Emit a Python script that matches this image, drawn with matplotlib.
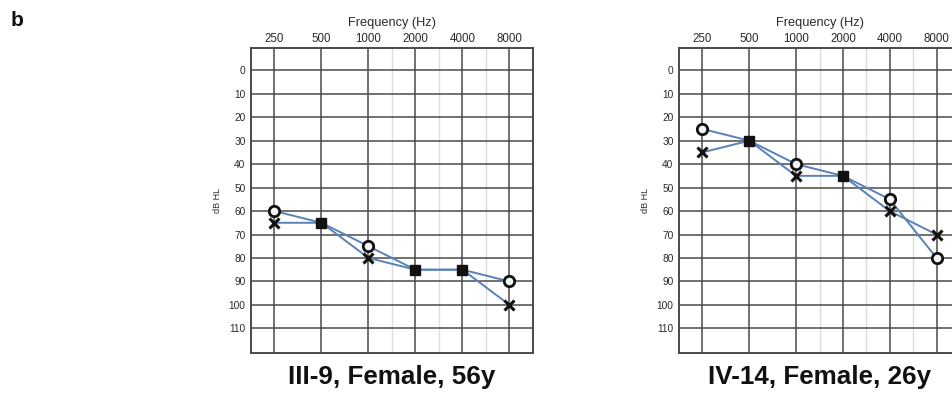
import numpy as np
import matplotlib
matplotlib.use("Agg")
import matplotlib.pyplot as plt

plt.rcParams['font.family'] = ['Liberation Sans', 'DejaVu Sans']

# ── data ────────────────────────────────────────────────────────────────────
freqs = [250, 500, 1000, 2000, 4000, 8000]
db_ticks = [0, 10, 20, 30, 40, 50, 60, 70, 80, 90, 100, 110]

# III-9, Female, 56y
p1_title = "III-9, Female, 56y"
p1_o = [60, 65, 75, 85, 85, 90]
p1_x = [65, 65, 80, 85, 85, 100]

# IV-14, Female, 26y
p2_title = "IV-14, Female, 26y"
p2_o = [25, 30, 40, 45, 55, 80]
p2_x = [35, 30, 45, 45, 60, 70]

LINE = "#5a82b6"
GRID = "#4a4a4a"
MINOR = "#dcdcdc"
TXT = "#2a2a2a"

W, H = 953, 396
fig = plt.figure(figsize=(W / 100, H / 100), dpi=100)


def audiogram(rect, o_vals, x_vals, title):
    ax = fig.add_axes(rect)
    xi = np.arange(len(freqs))
    ax.set_xlim(-0.5, len(freqs) - 0.5)
    ax.set_ylim(120.5, -9.5)

    # half-octave light lines (1500, 3000, 6000)
    for xm in [2.5, 3.5, 4.5]:
        ax.axvline(xm, color=MINOR, lw=1.0, zorder=0)
    for xv in xi:
        ax.axvline(xv, color=GRID, lw=1.1, zorder=1)
    for yv in db_ticks:
        ax.axhline(yv, color=GRID, lw=1.1, zorder=1)

    ax.xaxis.tick_top()
    ax.set_xticks(xi)
    ax.set_xticklabels([str(f) for f in freqs])
    ax.set_yticks(db_ticks)
    ax.tick_params(length=0, labelcolor=TXT)
    ax.tick_params(axis="x", labelsize=8.3, pad=2.5)
    ax.tick_params(axis="y", labelsize=7.3, pad=4)
    for s in ax.spines.values():
        s.set_color(GRID)
        s.set_linewidth(1.4)

    ax.set_xlabel("Frequency (Hz)", fontsize=9.2, color=TXT, labelpad=5)
    ax.xaxis.set_label_position("top")
    ax.set_ylabel("dB HL", fontsize=6.5, color=TXT, labelpad=5)

    ax.plot(xi, o_vals, color=LINE, lw=1.4, zorder=2)
    ax.plot(xi, x_vals, color=LINE, lw=1.4, zorder=2)

    o_arr = np.array(o_vals)
    x_arr = np.array(x_vals)
    same = o_arr == x_arr
    ax.plot(xi[~same], o_arr[~same], ls="none", marker="o", ms=7.5,
            mfc="#f4f4f4", mec="#111111", mew=2.0, zorder=3)
    ax.plot(xi[~same], x_arr[~same], ls="none", marker="x", ms=7,
            mec="#111111", mew=2.2, zorder=3)
    ax.plot(xi[same], o_arr[same], ls="none", marker="s", ms=7.5,
            mfc="#111111", mec="#111111", zorder=3)

    cx = rect[0] + rect[2] / 2
    fig.text(cx, 1 - 377 / H, title, ha="center", va="center",
             fontsize=18.7, fontweight="bold", color="#111111")
    return ax


ax1 = audiogram([251 / W, 1 - 353 / H, 282 / W, 305 / H], p1_o, p1_x, p1_title)
ax2 = audiogram([679 / W, 1 - 353 / H, 281 / W, 305 / H], p2_o, p2_x, p2_title)

fig.text(17 / W, 1 - 20 / H, "b", ha="center", va="center",
         fontsize=15, fontweight="bold", color="#111111")

fig.savefig("out.png", dpi=100, facecolor="white")
